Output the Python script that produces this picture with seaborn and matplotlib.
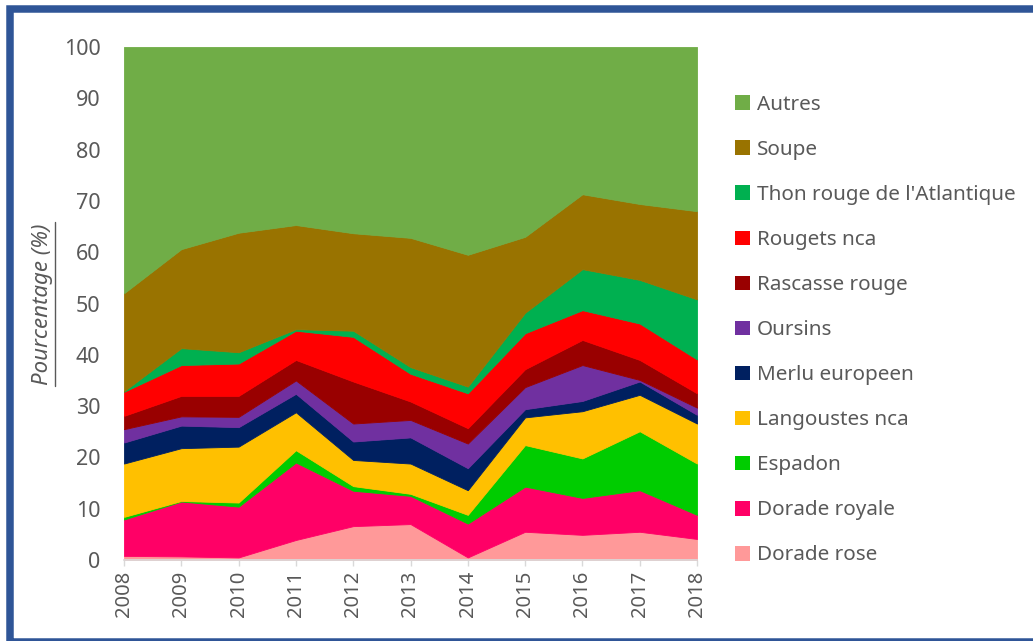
import pandas as pd
import matplotlib.pyplot as plt
import seaborn as sns
from matplotlib.patches import Patch, Rectangle
from matplotlib.lines import Line2D

# Data (share of landings, %)
years = list(range(2008, 2019))
dorade_rose = [0.8, 0.7, 0.5, 3.9, 6.6, 7.0, 0.5, 5.5, 4.9, 5.5, 4.1]
dorade_royale = [7.1, 10.7, 9.9, 15.1, 6.9, 5.5, 6.6, 8.8, 7.2, 8.1, 4.7]
espadon = [0.5, 0.1, 0.8, 2.4, 0.9, 0.4, 1.7, 8.1, 7.7, 11.5, 10.0]
langoustes = [10.4, 10.3, 10.9, 7.4, 5.1, 5.9, 4.8, 5.4, 9.2, 7.1, 7.8]
merlu = [4.1, 4.4, 3.8, 3.6, 3.6, 5.1, 4.3, 1.6, 2.0, 2.6, 1.7]
oursins = [2.6, 1.8, 2.0, 2.6, 3.5, 3.4, 4.8, 4.3, 7.0, 0.3, 1.4]
rascasse = [2.6, 4.0, 4.1, 4.0, 8.2, 3.6, 3.0, 3.5, 4.9, 3.9, 2.8]
rougets = [4.7, 6.0, 6.3, 5.7, 8.7, 5.4, 6.8, 7.0, 5.8, 7.1, 6.6]
thon = [0.1, 3.3, 2.2, 0.3, 1.2, 1.3, 1.3, 4.0, 8.0, 8.5, 11.7]
soupe = [19.1, 19.3, 23.3, 20.3, 19.0, 25.2, 25.7, 14.8, 14.6, 14.8, 17.2]
autres = [48.0, 39.4, 36.2, 34.7, 36.3, 37.2, 40.5, 37.0, 28.7, 30.6, 32.0]

# bottom to top
species = ["Dorade rose", "Dorade royale", "Espadon", "Langoustes nca",
           "Merlu europeen", "Oursins", "Rascasse rouge", "Rougets nca",
           "Thon rouge de l'Atlantique", "Soupe", "Autres"]
colors = ["#FF9999", "#FF0066", "#00CC00", "#FFC000", "#002060", "#7030A0",
          "#990000", "#FF0000", "#00B050", "#997300", "#70AD47"]

df = pd.DataFrame({
    "Dorade rose": dorade_rose,
    "Dorade royale": dorade_royale,
    "Espadon": espadon,
    "Langoustes nca": langoustes,
    "Merlu europeen": merlu,
    "Oursins": oursins,
    "Rascasse rouge": rascasse,
    "Rougets nca": rougets,
    "Thon rouge de l'Atlantique": thon,
    "Soupe": soupe,
    "Autres": autres,
}, index=years)

sns.set_theme(style="white")
plt.rcParams['font.family'] = ['Noto Sans', 'DejaVu Sans']
grey = "#595959"

fig = plt.figure(figsize=(10.33, 6.41), dpi=100)
ax = fig.add_axes([124 / 1033, 81 / 641, 573 / 1033, 513 / 641])

polys = ax.stackplot(df.index, [df[c] for c in species], colors=colors)
for p, c in zip(polys, colors):
    p.set_edgecolor(c)
    p.set_linewidth(0.6)

ax.set_xlim(2008, 2018)
ax.set_ylim(0, 100)
ax.set_yticks(range(0, 101, 10))
ax.set_xticks(years)
ax.set_xticklabels([str(y) for y in years], rotation=90)
ax.tick_params(axis='y', length=0, pad=17, labelsize=15.5, labelcolor=grey)
ax.tick_params(axis='x', bottom=True, length=4, width=1, color='#D9D9D9',
               pad=4, labelsize=14.5, labelcolor=grey)
for s in ['top', 'right', 'left']:
    ax.spines[s].set_visible(False)
ax.spines['bottom'].set_color('#D9D9D9')

# Legend, top entry first
handles = [Patch(facecolor=c, edgecolor='none') for c in colors[::-1]]
fig.legend(handles, species[::-1], loc='upper left',
           bbox_to_anchor=(735 / 1033, 1 - 95 / 641), frameon=False,
           fontsize=14.9, labelcolor=grey, handlelength=0.72, handleheight=0.72,
           handletextpad=0.35, labelspacing=1.21, borderpad=0, borderaxespad=0)

# Y label, italic and underlined
t = fig.text(43 / 1033, 1 - 304 / 641, "Pourcentage (%)", rotation=90,
             style='italic', fontsize=16, color=grey, ha='center', va='center')
fig.canvas.draw()
bb = t.get_window_extent()
W, H = fig.bbox.width, fig.bbox.height
ux = (bb.x1 + 1) / W
fig.add_artist(Line2D([ux, ux], [(bb.y0 - 1) / H, (bb.y1 + 1) / H],
                      transform=fig.transFigure, color=grey, lw=1))

# Blue frame (right side falls outside the image)
fig.add_artist(Rectangle((9.5 / 1033, -1 / 641), 1045 / 1033, 633 / 641,
                         transform=fig.transFigure, fill=False,
                         edgecolor="#2F5597", linewidth=5.4))

fig.savefig("out.png", dpi=100)
plt.close(fig)
